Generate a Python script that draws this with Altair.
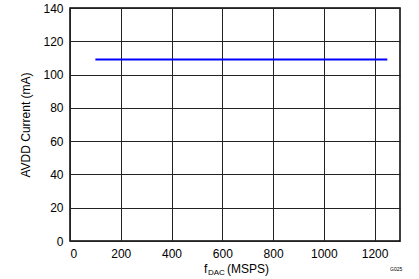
import altair as alt
import pandas as pd

f_dac = [100, 1250]
avdd_ma = [109, 109]
x_ticks = [0, 200, 400, 600, 800, 1000, 1200]
y_ticks = [0, 20, 40, 60, 80, 100, 120, 140]

df = pd.DataFrame({"f": f_dac, "i": avdd_ma})
FONT = "Liberation Sans"

line = alt.Chart(df).mark_line(color="#0000FF", strokeWidth=2).encode(
    x=alt.X("f:Q", scale=alt.Scale(domain=[0, 1300], nice=False),
            axis=alt.Axis(values=x_ticks, title=None, grid=True, gridColor="#222222",
                          gridWidth=1, domain=False, ticks=False, labelPadding=7,
                          format="d", labelFontSize=12, labelFont=FONT,
                          labelColor="#000000")),
    y=alt.Y("i:Q", scale=alt.Scale(domain=[0, 140], nice=False),
            axis=alt.Axis(values=y_ticks, title="AVDD Current (mA)", grid=True,
                          gridColor="#222222", gridWidth=1, domain=False, ticks=False,
                          labelPadding=7, labelFontSize=12, labelFont=FONT,
                          labelColor="#000000", titleFont=FONT, titleFontSize=12,
                          titleFontWeight="normal", titleColor="#000000", titlePadding=10)),
)

def label(txt, x, y, size, align="left"):
    return alt.Chart(pd.DataFrame({"t": [txt]})).mark_text(
        font=FONT, fontSize=size, align=align, baseline="alphabetic", color="#000000"
    ).encode(text="t:N", x=alt.value(x), y=alt.value(y))

t1 = label("f", 134, 265, 12)
t2 = label("DAC", 138, 267, 8)
t3 = label("(MSPS)", 157, 265, 12)
t4 = label("G025", 320, 263, 5)

chart = alt.layer(line, t1, t2, t3, t4).properties(
    width=330, height=233, padding={"left": 70, "top": 8, "right": 19, "bottom": 38}
).configure(autosize=alt.AutoSizeParams(type="none")).configure_view(
    stroke="#000000", strokeWidth=1.5
)

chart.save("out.html", embed_options={"renderer": "svg", "actions": False})
